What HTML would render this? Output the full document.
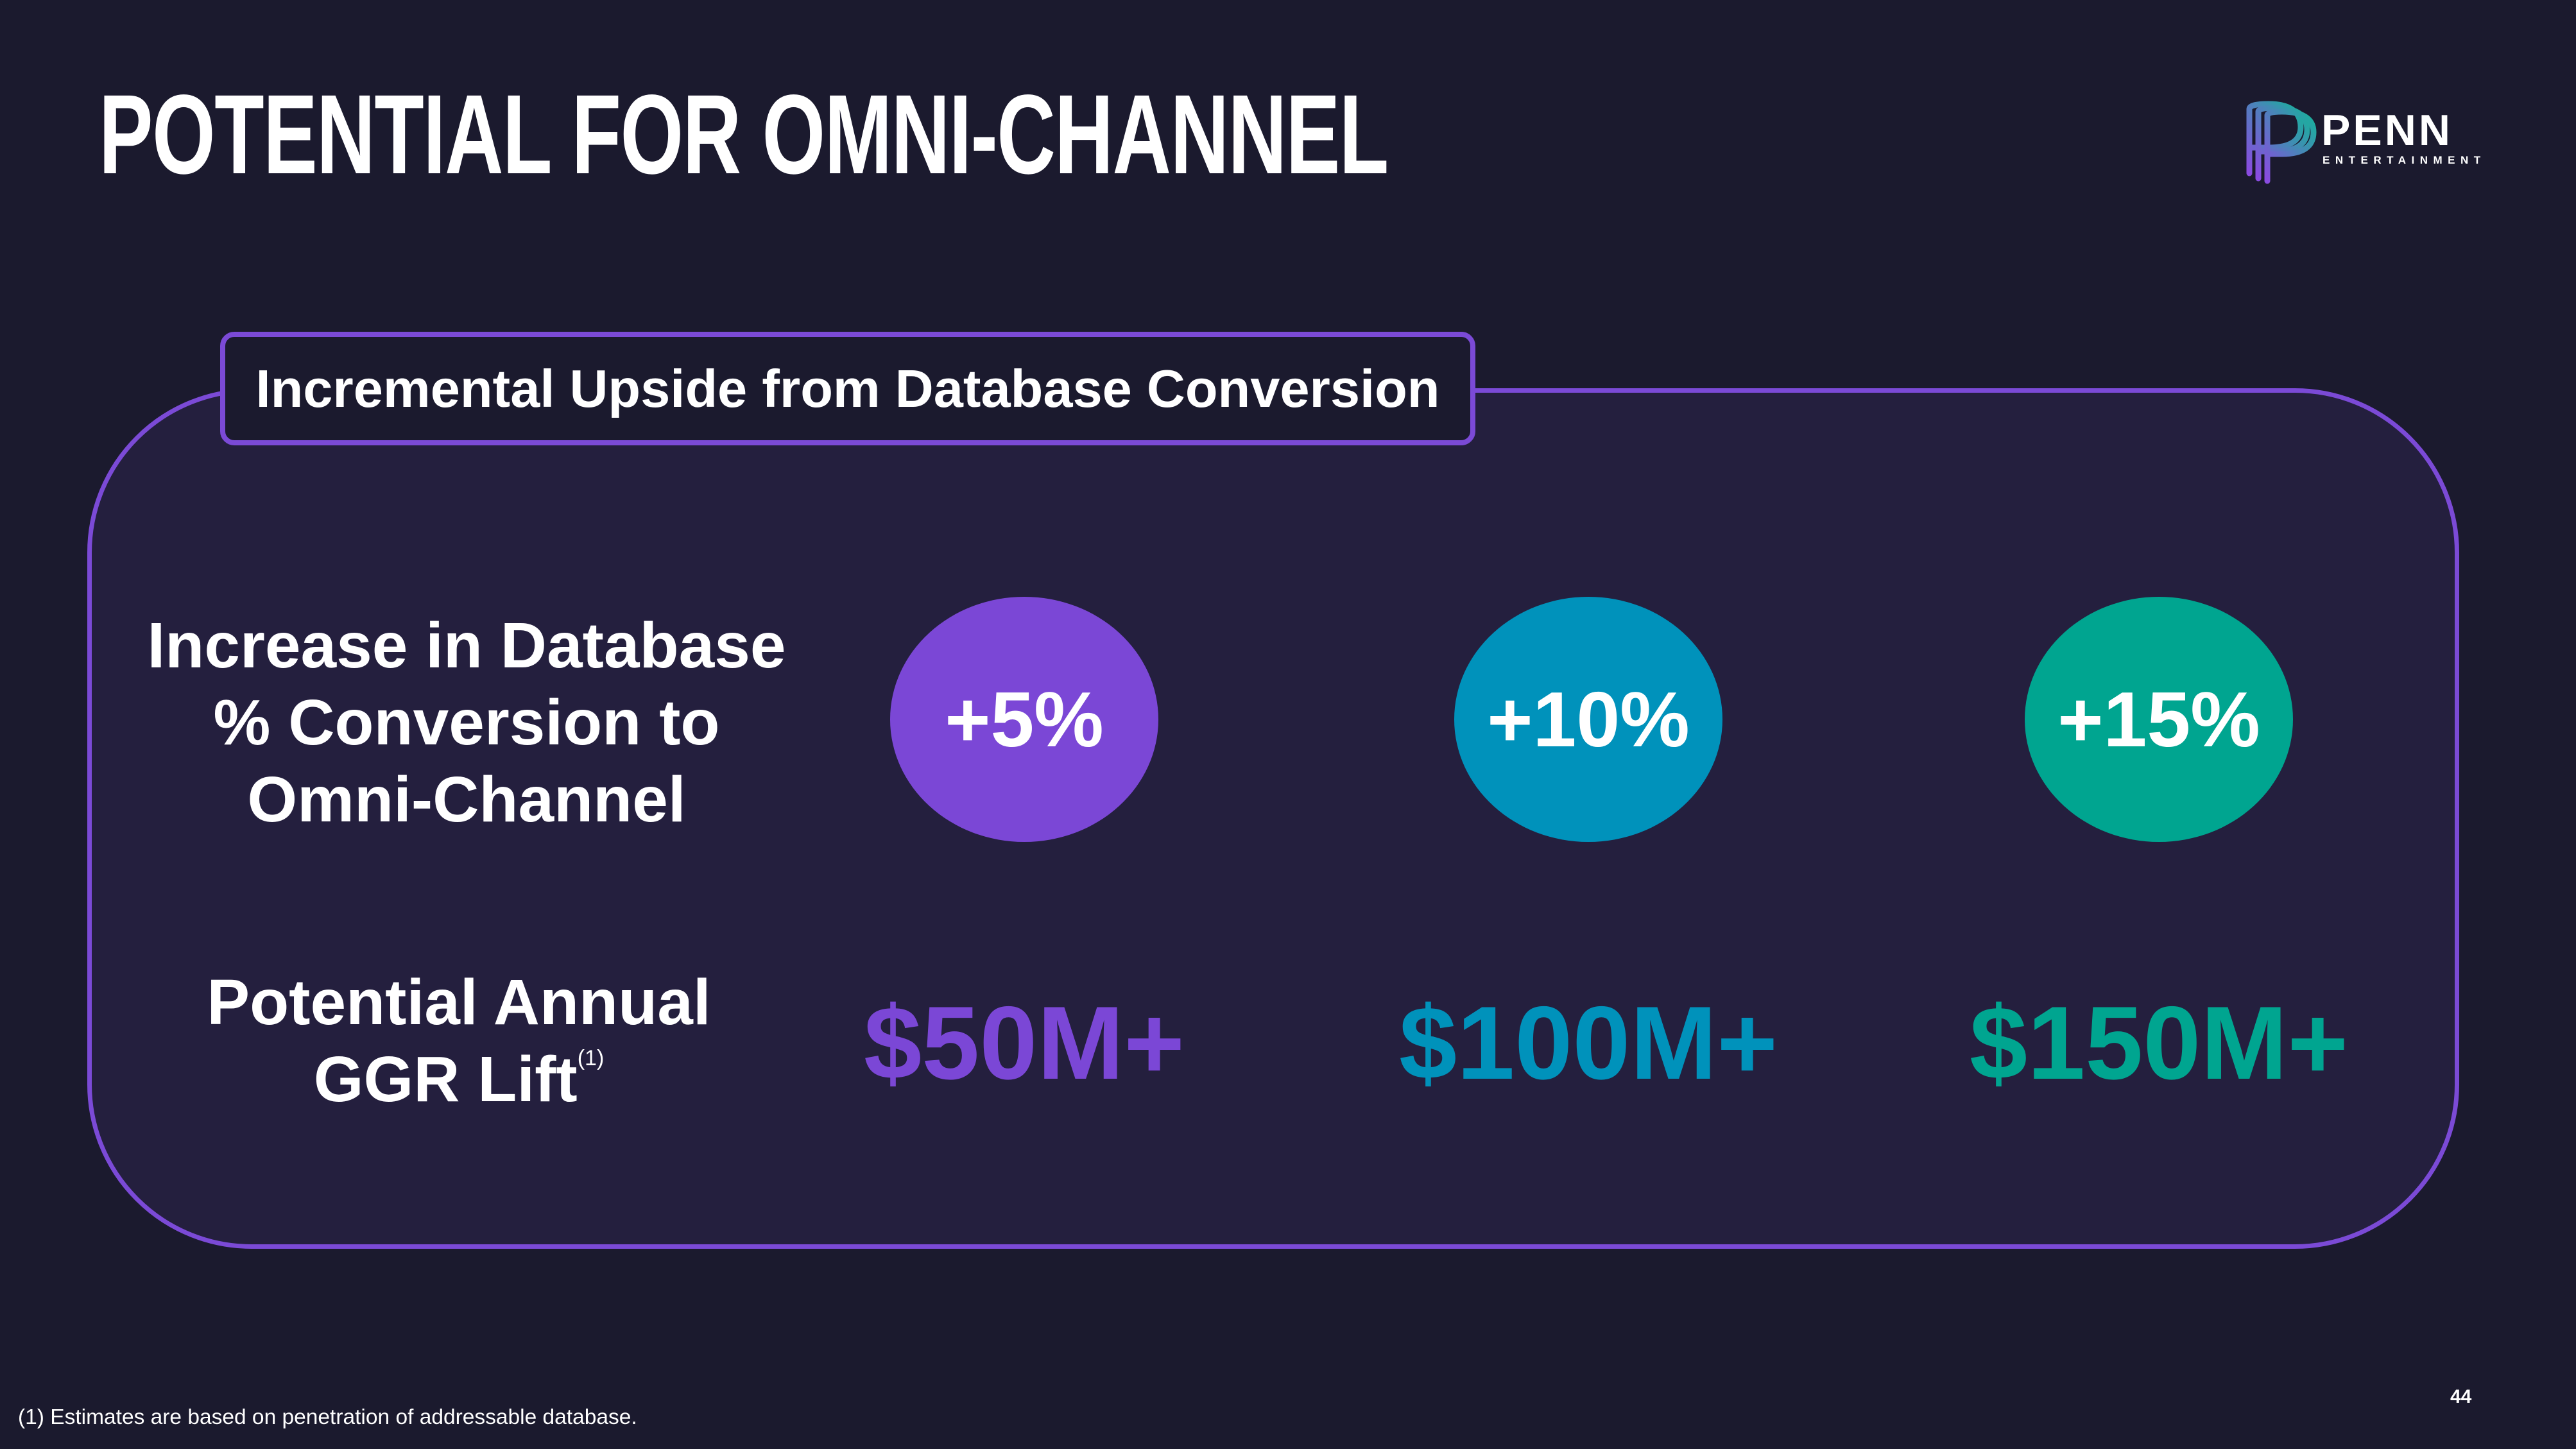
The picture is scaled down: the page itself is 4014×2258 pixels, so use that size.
<!DOCTYPE html>
<html><head><meta charset="utf-8"><style>
html,body{margin:0;padding:0;}
body{width:4014px;height:2258px;background:#1b1a2e;position:relative;overflow:hidden;font-family:"Liberation Sans",sans-serif;color:#fff;}
.abs{position:absolute;}
.title{left:154px;top:122px;font-family:"Liberation Sans Narrow","Liberation Sans",sans-serif;font-weight:bold;font-size:176px;line-height:1;white-space:nowrap;transform-origin:left top;transform:scaleX(0.72);letter-spacing:-2px;}
.panel{left:136px;top:605px;width:3696px;height:1341px;box-sizing:border-box;border:7px solid #7b4ad6;border-radius:256px;background:#241f3e;}
.label{left:343px;top:517px;width:1956px;height:177px;box-sizing:border-box;border:8px solid #7b4ad6;border-radius:22px;background:#1b1a2e;font-weight:bold;font-size:83px;line-height:161px;text-align:center;white-space:nowrap;}
.rowlab{font-weight:bold;font-size:100px;line-height:120px;text-align:center;width:1100px;}
.ell{width:418px;height:382px;border-radius:50%;font-weight:bold;font-size:122px;display:flex;align-items:center;justify-content:center;}
.val{font-weight:bold;font-size:162px;width:900px;text-align:center;line-height:1;}
</style></head><body>
<div class="abs title">POTENTIAL FOR OMNI-CHANNEL</div>
<svg class="abs" style="left:3495px;top:150px" width="420" height="140">
<defs><linearGradient id="g" x1="0" y1="1" x2="1" y2="0"><stop offset="0" stop-color="#8a4be0"/><stop offset="1" stop-color="#16b39a"/></linearGradient></defs>
<g fill="none" stroke="url(#g)" stroke-width="9" stroke-linecap="round">
<path d="M10 120 V20 Q10 12 40 12 Q90 12 90 48 Q90 80 40 80 H10"/>
<path d="M24 128 V24 Q24 18 50 18 Q100 18 100 52 Q100 86 50 86 H24"/>
<path d="M38 132 V30 Q38 24 60 24 Q110 24 110 56 Q110 90 60 90 H38"/>
</g>
<text x="122" y="76" font-family="Liberation Sans" font-weight="bold" font-size="68" fill="#fff" letter-spacing="4">PENN</text>
<text x="124" y="105" font-family="Liberation Sans" font-weight="bold" font-size="17" fill="#fff" letter-spacing="8.5">ENTERTAINMENT</text>
</svg>
<div class="abs panel"></div>
<div class="abs label">Incremental Upside from Database Conversion</div>
<div class="abs rowlab" style="left:177px;top:946px">Increase in Database<br>% Conversion to<br>Omni-Channel</div>
<div class="abs rowlab" style="left:165px;top:1502px">Potential Annual<br>GGR Lift<sup style="font-size:34px;font-weight:normal;vertical-align:top;line-height:1;position:relative;top:10px">(1)</sup></div>
<div class="abs ell" style="left:1387px;top:930px;background:#7b47d6">+5%</div>
<div class="abs ell" style="left:2266px;top:930px;background:#0092bb">+10%</div>
<div class="abs ell" style="left:3155px;top:930px;background:#00a590">+15%</div>
<div class="abs val" style="left:1146px;top:1545px;color:#7b47d6">$50M+</div>
<div class="abs val" style="left:2025px;top:1545px;color:#0092bb">$100M+</div>
<div class="abs val" style="left:2914px;top:1545px;color:#00a590">$150M+</div>
<div class="abs" style="left:28px;top:2190px;font-size:33.5px">(1) Estimates are based on penetration of addressable database.</div>
<div class="abs" style="left:3818px;top:2160px;font-size:30px;font-weight:bold">44</div>
</body></html>
